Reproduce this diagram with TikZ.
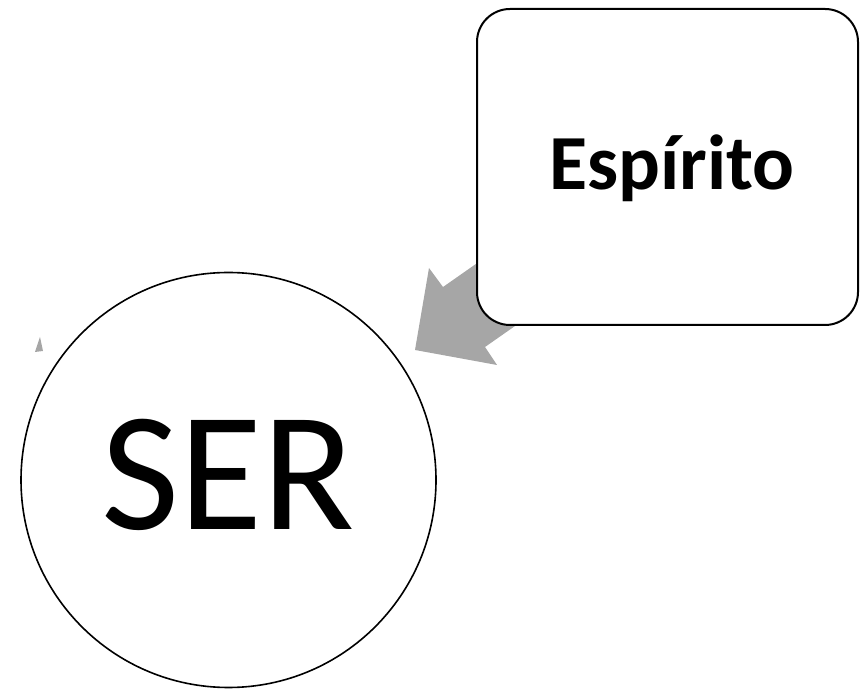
\documentclass[tikz,border=0pt]{standalone}
\usepackage{fontspec}
\setmainfont{Carlito}
\definecolor{arrowgray}{HTML}{A6A6A6}
\begin{document}
\begin{tikzpicture}[x=1pt,y=1pt,
  boxnode/.style={draw=black,line width=2pt,fill=white,rounded corners=33pt,
    minimum width=381pt,minimum height=316pt,inner sep=0pt,
    font=\fontsize{78}{86}\selectfont\bfseries,text height=50pt,text depth=4pt},
  circnode/.style={draw=black,line width=1.6pt,fill=white,circle,
    minimum size=415pt,inner sep=0pt,
    font=\fontsize{170}{180}\selectfont,text height=108pt,text depth=8pt},
  blockarrow/.style={fill=arrowgray,draw=none}]
\useasboundingbox (0,0) rectangle (861,690);
% block arrow (drawn under the box)
\coordinate (T) at (415,340);
\coordinate (W1) at (429,422);
\coordinate (N1) at (443,403);
\coordinate (E1) at (566,489);
\coordinate (E2) at (608,429);
\coordinate (N2) at (485,343);
\coordinate (W2) at (497,325);
\fill[blockarrow] (T) -- (W1) -- (N1) -- (E1) -- (E2) -- (N2) -- (W2) -- cycle;
% small gray fragment
\fill[blockarrow] (35,338) -- (40,353) -- (43,339) -- cycle;
\node[boxnode] (esp) at (667.5,523) {\hspace*{9pt}Espírito};
\node[circnode] (ser) at (228.5,210) {SER};
\end{tikzpicture}
\end{document}
